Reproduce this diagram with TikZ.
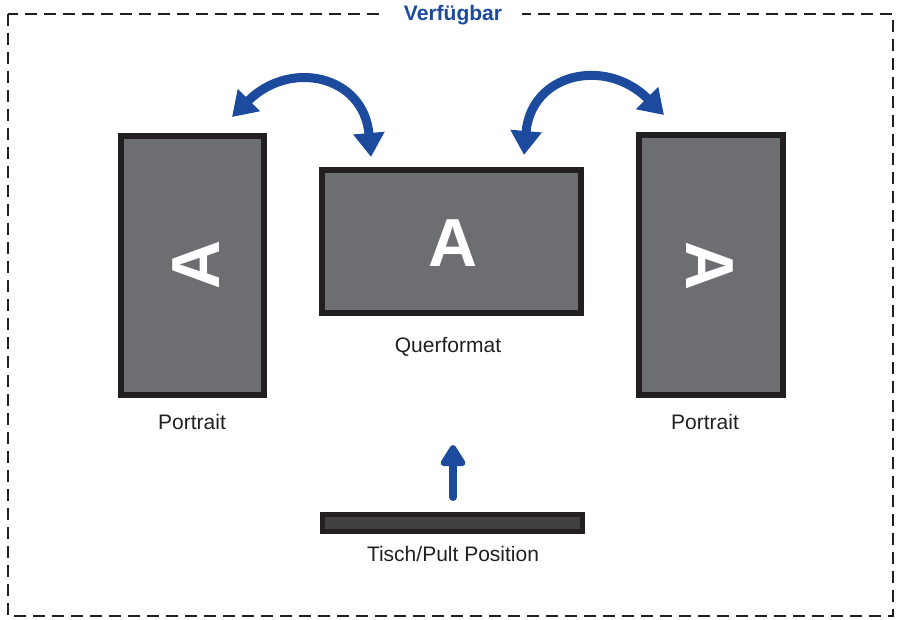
\documentclass[tikz,border=0pt]{standalone}
\usepackage{fontspec}
\setmainfont{Liberation Sans}
\usepackage{xcolor}
\usetikzlibrary{arrows.meta, positioning}

\definecolor{screengray}{HTML}{6D6E71}
\definecolor{framedark}{HTML}{231F20}
\definecolor{deskgray}{HTML}{404041}
\definecolor{turnblue}{HTML}{1C4A9C}

\tikzset{
  screen/.style={draw=framedark, fill=screengray, line width=6pt, inner sep=0pt},
  letter/.style={text=white, font=\fontsize{68}{68}\selectfont\bfseries, inner sep=0pt},
  lbl/.style={anchor=base, text=framedark, font=\fontsize{21}{25}\selectfont, inner sep=0pt},
  turn/.style={draw=turnblue, line width=9pt, {Triangle[length=24pt,width=30pt]}-{Triangle[length=24pt,width=30pt]}},
  lift/.style={draw=turnblue, line width=8pt, line cap=round, -{Triangle[length=24pt,width=28pt,round=false]}}
}

\begin{document}
\begin{tikzpicture}[x=1pt, y=-1pt]
    \useasboundingbox (0,0) rectangle (899,620);

    % 1. gestrichelter Rahmen mit Titel
    \draw[framedark, line width=2pt, dash pattern=on 12pt off 7pt] (8,14) rectangle (893,616);
    \node[lbl, fill=white, inner xsep=20pt, inner ysep=4pt, text=turnblue, font=\fontsize{21}{25}\selectfont\bfseries] (title) at (453,21) {Verfügbar};

    % 2. Bildschirme
    \node[screen, minimum width=143pt, minimum height=259pt] (left) at (192.5,265.5) {};
    \node[screen, minimum width=259pt, minimum height=143pt] (mid) at (451.5,241.5) {};
    \node[screen, minimum width=144pt, minimum height=260pt] (right) at (711,265) {};
    \node[draw=framedark, fill=deskgray, line width=5pt, minimum width=260pt, minimum height=17pt, inner sep=0pt] (desk) at (452.5,523) {};

    % 3. Buchstaben
    \node[letter, rotate=90] (leftA) at (196,265) {A};
    \node[letter] (midA) at (453,243) {A};
    \node[letter, rotate=-90] (rightA) at (710,266) {A};

    % 4. Beschriftungen
    \node[lbl] (leftlbl) at (192,429) {Portrait};
    \node[lbl] (midlbl) at (448,352) {Querformat};
    \node[lbl] (rightlbl) at (705,429) {Portrait};
    \node[lbl] (desklbl) at (453,561) {Tisch/Pult Position};

    % 5. Drehpfeile
    \coordinate (lA) at (232,117);
    \coordinate (lB) at (371,157);
    \coordinate (rA) at (524,155);
    \coordinate (rB) at (664,115);
    \coordinate (up) at (453,445);
    \coordinate (upfoot) at (453,497);
    \draw[turn] (lA) to[out=45, in=95, looseness=1.45] (lB);
    \draw[turn] (rA) to[out=85, in=135, looseness=1.45] (rB);
    \draw[lift] (upfoot) -- (up);
\end{tikzpicture}
\end{document}
